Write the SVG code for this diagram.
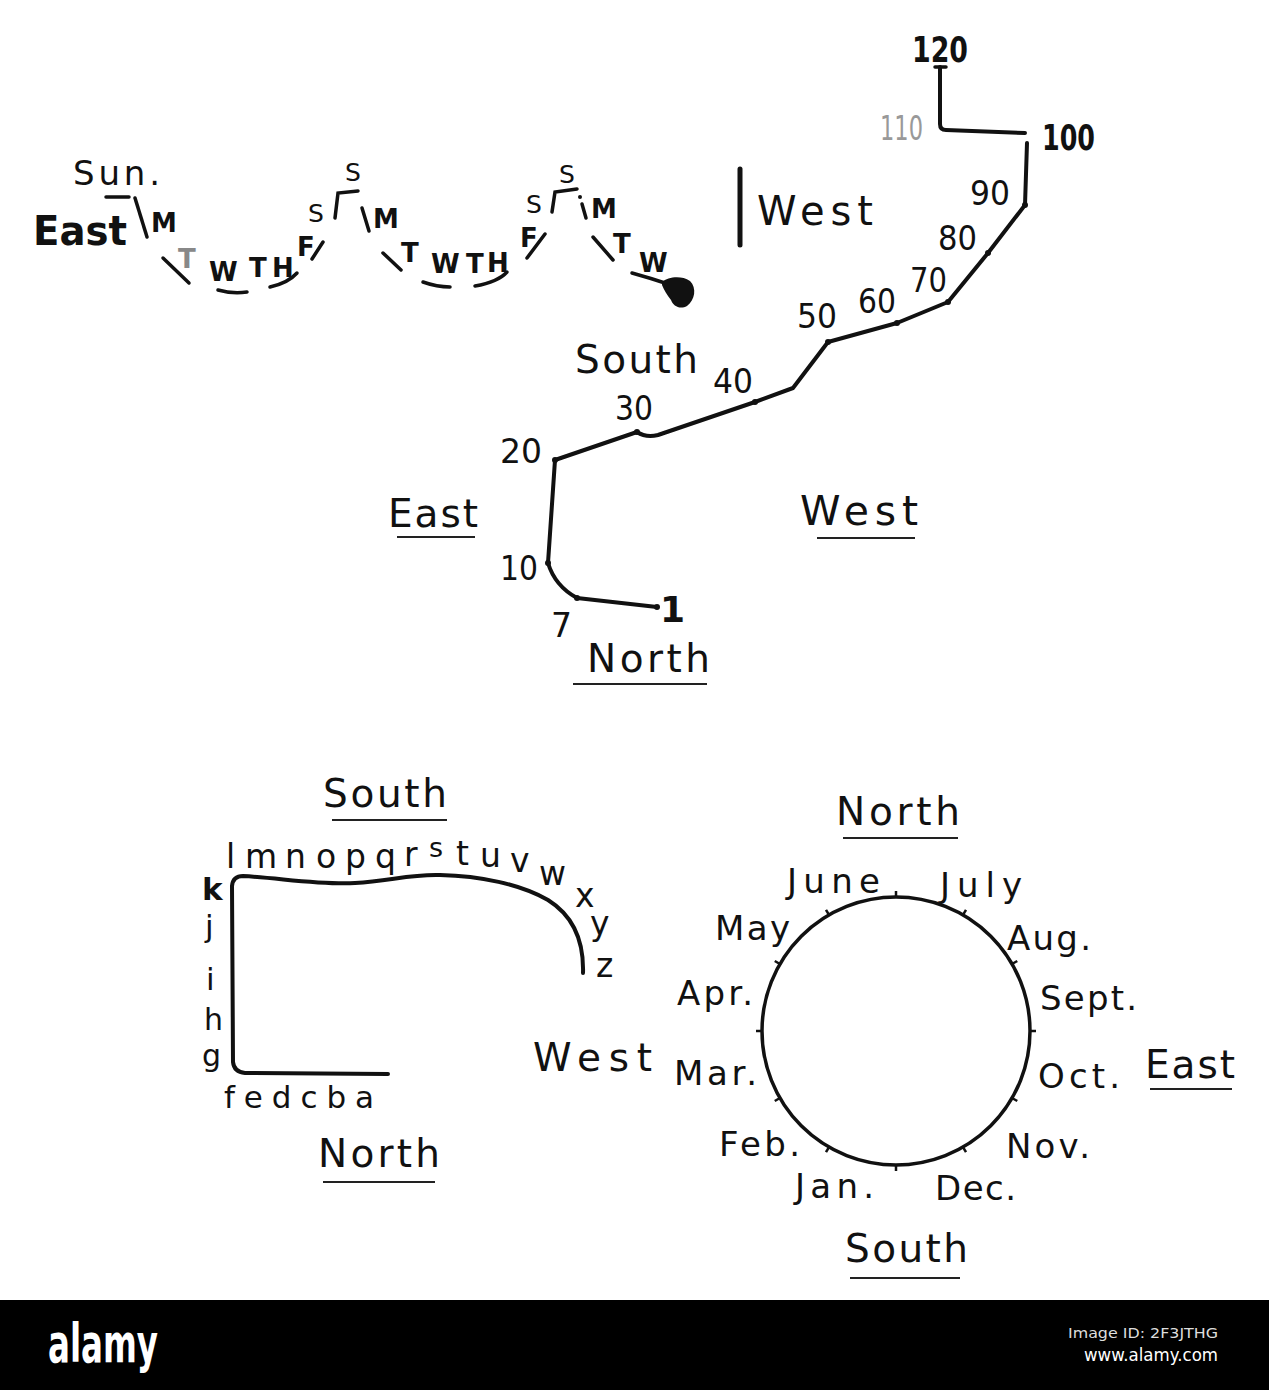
<svg xmlns="http://www.w3.org/2000/svg" width="1269" height="1390" viewBox="0 0 1269 1390">
<style>
text{font-family:"DejaVu Sans","Liberation Sans",sans-serif;fill:#111}
.ln{fill:none;stroke:#111;stroke-width:4;stroke-linecap:round;stroke-linejoin:round}
.th{fill:none;stroke:#111;stroke-width:3.5;stroke-linecap:round}
.ul{stroke:#222;stroke-width:2}
.big{font-size:39px}
.num{font-size:33px}
.day{font-size:26px;font-weight:bold}
.s{font-size:25px}
.mo{font-size:34px}
.al{font-size:33px}
.tk{stroke:#111;stroke-width:2.5}
</style>
<rect width="1269" height="1390" fill="#fff"/>

<g id="week-form">
  <text x="73" y="185" font-size="34" textLength="87" lengthAdjust="spacing">Sun.</text>
  <line class="th" x1="106" y1="197" x2="129" y2="197"/>
  <text x="33" y="245" font-size="40" font-weight="bold" textLength="94" lengthAdjust="spacingAndGlyphs">East</text>
  <line class="th" x1="135" y1="198" x2="147" y2="237"/>
  <text class="day" x="151" y="232">M</text>
  <line class="th" x1="163" y1="258" x2="189" y2="283"/>
  <text class="day" x="178" y="268" style="fill:#888">T</text>
  <text class="day" x="209" y="281">W</text>
  <path class="th" d="M218,290 Q232,294 247,292"/>
  <text class="day" x="249" y="277">T</text>
  <text class="day" x="272" y="277">H</text>
  <path class="th" d="M270,287 Q288,283 297,273"/>
  <text class="day" x="297" y="256" font-size="23">F</text>
  <line class="th" x1="312" y1="259" x2="323" y2="242"/>
  <text class="s" x="308" y="222">S</text>
  <path class="th" d="M335,218 L338,193 L358,191"/>
  <text class="s" x="345" y="181">S</text>
  <line class="th" x1="362" y1="208" x2="369" y2="231"/>
  <text class="day" x="373" y="228">M</text>
  <line class="th" x1="383" y1="253" x2="401" y2="270"/>
  <text class="day" x="401" y="262">T</text>
  <path class="th" d="M423,282 Q437,287 450,287"/>
  <text class="day" x="431" y="273">W</text>
  <text class="day" x="466" y="273">T</text>
  <text class="day" x="487" y="272">H</text>
  <path class="th" d="M475,286 Q498,282 507,272"/>
  <text class="day" x="520" y="247" font-size="23">F</text>
  <line class="th" x1="527" y1="258" x2="545" y2="234"/>
  <text class="s" x="526" y="213">S</text>
  <path class="th" d="M552,212 L555,192 L577,189"/>
  <text class="s" x="559" y="183">S</text>
  <circle cx="580" cy="197" r="2" fill="#111"/>
  <line class="th" x1="582" y1="204" x2="586" y2="218"/>
  <text class="day" x="591" y="218">M</text>
  <line class="th" x1="593" y1="237" x2="613" y2="260"/>
  <text class="day" x="613" y="253">T</text>
  <text class="day" x="639" y="272">W</text>
  <path class="th" d="M632,273 Q650,278 668,284"/>
  <path d="M662,282 C668,277 681,275 690,281 C697,288 695,300 687,306 C680,310 673,306 671,300 C667,295 664,290 662,285 Z" fill="#111"/>
  <line x1="740" y1="169" x2="740" y2="245" stroke="#111" stroke-width="5" stroke-linecap="round"/>
  <text x="757" y="225" font-size="40" textLength="116" lengthAdjust="spacing">West</text>
</g>

<g id="number-form">
  <line class="th" x1="935" y1="67" x2="946" y2="67"/>
  <path class="ln" d="M940,67 L940,124 Q940,130 946,130 L1025,133"/>
  <path class="ln" d="M1027,143 L1025,205 L988,253 L948,302 L897,323 L828,342 L793,388 L755,402 L658,435 Q646,438 637,432 L555,460 L548,563 Q555,586 577,598 L657,607"/>
  <g fill="#111">
    <circle cx="1025" cy="205" r="3"/><circle cx="988" cy="253" r="3"/><circle cx="948" cy="302" r="3"/>
    <circle cx="897" cy="323" r="3"/><circle cx="828" cy="342" r="3"/><circle cx="755" cy="402" r="3"/>
    <circle cx="637" cy="432" r="3"/><circle cx="555" cy="460" r="3"/><circle cx="548" cy="563" r="3"/>
    <circle cx="577" cy="598" r="3"/><circle cx="657" cy="607" r="3"/>
  </g>
  <text x="912" y="62" font-size="36" textLength="56" lengthAdjust="spacingAndGlyphs" style="font-weight:bold">120</text>
  <text x="880" y="140" font-size="34" textLength="43" lengthAdjust="spacingAndGlyphs" style="fill:#999">110</text>
  <text x="1042" y="150" font-size="35" textLength="53" lengthAdjust="spacingAndGlyphs" style="font-weight:bold">100</text>
  <text class="num" x="970" y="205" textLength="40" lengthAdjust="spacingAndGlyphs">90</text>
  <text class="num" x="938" y="250" textLength="39" lengthAdjust="spacingAndGlyphs">80</text>
  <text class="num" x="910" y="292" textLength="37" lengthAdjust="spacingAndGlyphs">70</text>
  <text class="num" x="858" y="313" textLength="38" lengthAdjust="spacingAndGlyphs">60</text>
  <text class="num" x="797" y="328" textLength="40" lengthAdjust="spacingAndGlyphs">50</text>
  <text class="num" x="713" y="393" textLength="40" lengthAdjust="spacingAndGlyphs">40</text>
  <text class="num" x="615" y="420" textLength="38" lengthAdjust="spacingAndGlyphs">30</text>
  <text class="num" x="500" y="463" textLength="42" lengthAdjust="spacingAndGlyphs">20</text>
  <text class="num" x="500" y="580" textLength="38" lengthAdjust="spacingAndGlyphs">10</text>
  <text class="num" x="551" y="637">7</text>
  <text x="660" y="622" font-size="36" font-weight="bold">1</text>
  <text class="big" x="575" y="373" textLength="123" lengthAdjust="spacing">South</text>
  <text class="big" x="388" y="527" textLength="90" lengthAdjust="spacing">East</text>
  <line class="ul" x1="397" y1="537" x2="475" y2="537"/>
  <text x="800" y="525" font-size="41" textLength="118" lengthAdjust="spacing">West</text>
  <line class="ul" x1="817" y1="538" x2="915" y2="538"/>
  <text class="big" x="587" y="672" textLength="123" lengthAdjust="spacing">North</text>
  <line class="ul" x1="573" y1="684" x2="707" y2="684"/>
</g>

<g id="alphabet-form">
  <path class="ln" d="M388,1074 L245,1073 Q234,1072 233,1062 L232,886 Q233,876 243,876 C280,878 320,885 355,883 C390,881 410,874 440,875 C480,876 520,884 548,900 C572,915 584,940 583,973" stroke-width="4.5"/>
  <text class="big" x="323" y="807" textLength="124" lengthAdjust="spacing">South</text>
  <line class="ul" x1="332" y1="820" x2="447" y2="820"/>
  <text class="al" x="226" y="868">l</text>
  <text class="al" x="245" y="868">m</text>
  <text class="al" x="285" y="868">n</text>
  <text class="al" x="316" y="868">o</text>
  <text class="al" x="345" y="868">p</text>
  <text class="al" x="375" y="868">q</text>
  <text class="al" x="404" y="866">r</text>
  <text x="429" y="857" font-size="27">s</text>
  <text class="al" x="456" y="865">t</text>
  <text class="al" x="480" y="867">u</text>
  <text class="al" x="510" y="872">v</text>
  <text class="al" x="539" y="885">w</text>
  <text class="al" x="575" y="907">x</text>
  <text class="al" x="590" y="935">y</text>
  <text class="al" x="596" y="977">z</text>
  <text x="202" y="900" font-size="31" font-weight="bold">k</text>
  <text x="205" y="937" font-size="31">j</text>
  <text x="206" y="990" font-size="31">i</text>
  <text x="204" y="1030" font-size="30">h</text>
  <text x="202" y="1066" font-size="30">g</text>
  <text x="224" y="1108" font-size="31" textLength="150" lengthAdjust="spacing">fedcba</text>
  <text class="big" x="318" y="1167" textLength="122" lengthAdjust="spacing">North</text>
  <line class="ul" x1="323" y1="1182" x2="435" y2="1182"/>
  <text class="big" x="533" y="1071" textLength="119" lengthAdjust="spacing">West</text>
</g>

<g id="month-form">
  <circle cx="896" cy="1031" r="134" fill="none" stroke="#111" stroke-width="3.5"/>
  <g transform="translate(896,1031)">
    <line class="tk" x1="0" y1="-134" x2="0" y2="-140" transform="rotate(0)"/>
    <line class="tk" x1="0" y1="-134" x2="0" y2="-140" transform="rotate(30)"/>
    <line class="tk" x1="0" y1="-134" x2="0" y2="-140" transform="rotate(60)"/>
    <line class="tk" x1="0" y1="-134" x2="0" y2="-140" transform="rotate(90)"/>
    <line class="tk" x1="0" y1="-134" x2="0" y2="-140" transform="rotate(120)"/>
    <line class="tk" x1="0" y1="-134" x2="0" y2="-140" transform="rotate(150)"/>
    <line class="tk" x1="0" y1="-134" x2="0" y2="-140" transform="rotate(180)"/>
    <line class="tk" x1="0" y1="-134" x2="0" y2="-140" transform="rotate(210)"/>
    <line class="tk" x1="0" y1="-134" x2="0" y2="-140" transform="rotate(240)"/>
    <line class="tk" x1="0" y1="-134" x2="0" y2="-140" transform="rotate(270)"/>
    <line class="tk" x1="0" y1="-134" x2="0" y2="-140" transform="rotate(300)"/>
    <line class="tk" x1="0" y1="-134" x2="0" y2="-140" transform="rotate(330)"/>
  </g>
  <text class="big" x="836" y="825" textLength="124" lengthAdjust="spacing">North</text>
  <line class="ul" x1="843" y1="838" x2="958" y2="838"/>
  <text class="mo" x="787" y="893" textLength="93" lengthAdjust="spacing">June</text>
  <text class="mo" x="940" y="897" textLength="82" lengthAdjust="spacing">July</text>
  <text class="mo" x="715" y="940" textLength="75" lengthAdjust="spacing">May</text>
  <text class="mo" x="1007" y="950" textLength="84" lengthAdjust="spacing">Aug.</text>
  <text class="mo" x="677" y="1005" textLength="76" lengthAdjust="spacing">Apr.</text>
  <text class="mo" x="1040" y="1010" textLength="97" lengthAdjust="spacing">Sept.</text>
  <text class="mo" x="674" y="1085" textLength="83" lengthAdjust="spacing">Mar.</text>
  <text class="mo" x="1038" y="1088" textLength="82" lengthAdjust="spacing">Oct.</text>
  <text class="mo" x="719" y="1156" textLength="81" lengthAdjust="spacing">Feb.</text>
  <text class="mo" x="1006" y="1158" textLength="84" lengthAdjust="spacing">Nov.</text>
  <text class="mo" x="795" y="1198" textLength="79" lengthAdjust="spacing">Jan.</text>
  <text class="mo" x="935" y="1200" textLength="81" lengthAdjust="spacing">Dec.</text>
  <text class="big" x="845" y="1262" textLength="123" lengthAdjust="spacing">South</text>
  <line class="ul" x1="850" y1="1278" x2="960" y2="1278"/>
  <text class="big" x="1145" y="1078" textLength="90" lengthAdjust="spacing">East</text>
  <line class="ul" x1="1150" y1="1089" x2="1232" y2="1089"/>
</g>

<g id="banner">
  <rect x="0" y="1300" width="1269" height="90" fill="#000"/>
  <text x="48" y="1362" font-size="54" font-weight="bold" textLength="110" lengthAdjust="spacingAndGlyphs" style="fill:#fff;font-family:'Liberation Sans Narrow','DejaVu Sans Condensed','Liberation Sans',sans-serif">alamy</text>
  <text x="1218" y="1338" font-size="14" text-anchor="end" textLength="150" lengthAdjust="spacingAndGlyphs" style="fill:#ddd">Image ID: 2F3JTHG</text>
  <text x="1218" y="1361" font-size="17" text-anchor="end" textLength="134" lengthAdjust="spacingAndGlyphs" style="fill:#fff">www.alamy.com</text>
</g>
</svg>
